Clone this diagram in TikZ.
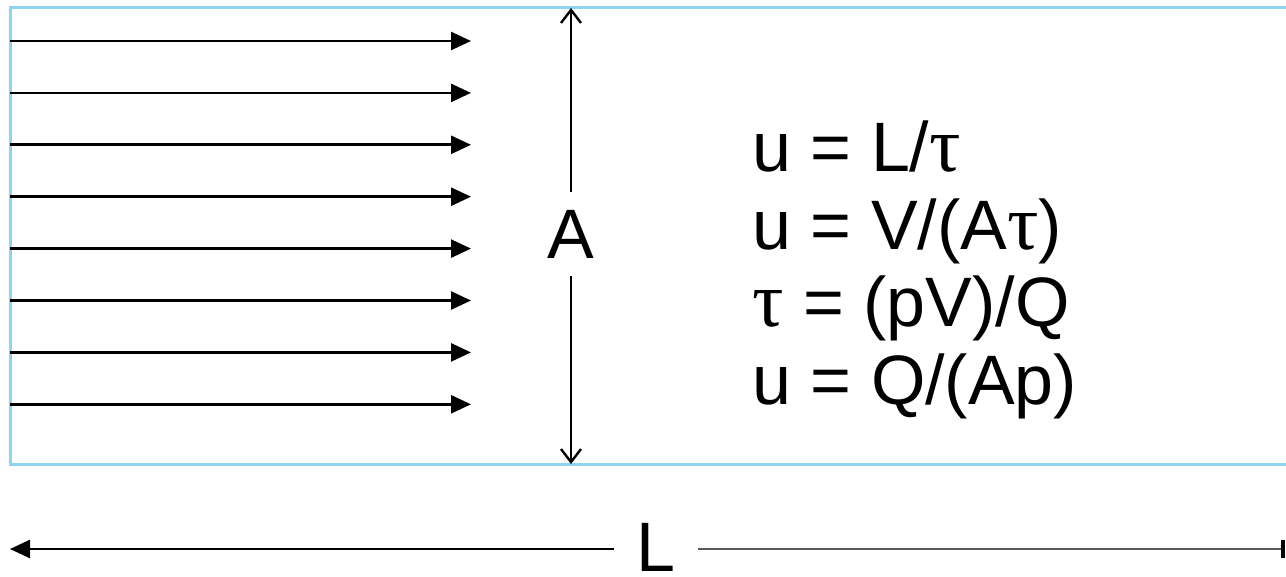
\documentclass[tikz,border=0pt]{standalone}
\usepackage{fontspec}
\setmainfont{Liberation Sans}
\newfontfamily\taufont{Liberation Serif}[Scale=1.12]
\usetikzlibrary{arrows.meta,positioning}
\definecolor{pipeblue}{RGB}{140,212,242}
\newcommand{\tauc}{{\taufont τ}}
\tikzset{
  wall/.style={draw=pipeblue,line width=1.5pt},
  flow/.style={-{Triangle[length=10pt,width=9pt]},line width=1.3pt},
  dim/.style={-{Straight Barb[length=6.5pt,width=10pt,line width=1.2pt]},line width=0.9pt},
  big/.style={font=\fontsize{35}{42}\selectfont,inner sep=0pt},
  eqn/.style={big,anchor=base west},
}

\begin{document}
\begin{tikzpicture}[x=0.5pt,y=-0.5pt]
  \useasboundingbox (0,0) rectangle (1286,577);

  % --- channel walls (open on the right) ---
  \draw[wall] (1286,8) -- (10,8) -- (10,464) -- (1286,464);

  % --- flow lines ---
  \foreach \i in {0,...,7} {
    \coordinate (s\i) at (10,41+51.9*\i);
    \coordinate (e\i) at (471,41+51.9*\i);
    \draw[flow] (s\i) -- (e\i);
  }

  % --- cross-section A ---
  \node[big,text height=25pt,text depth=0pt,inner ysep=8.5pt] (alab) at (571,234) {A};
  \coordinate (atop) at (571,8);
  \coordinate (abot) at (571,464);
  \draw[dim] (alab) -- (atop);
  \draw[dim] (alab) -- (abot);

  % --- length L ---
  \node[big,text height=25pt,text depth=0pt,inner xsep=11.25pt] (llab) at (656,546) {L};
  \coordinate (lleft) at (10,549);
  \coordinate (lright) at (1285,549);
  \draw[flow] (llab.west |- lleft) -- (lleft);
  \draw[-{Bar[width=9pt,line width=2pt,black]},line width=1.1pt,draw=black!65]
    (llab.east |- lright) -- (lright);

  % --- relations ---
  \node[eqn] (eq1) at (752,172) {u = L/\tauc};
  \node[eqn] (eq2) at (752,250) {u = V/(A\tauc)};
  \node[eqn] (eq3) at (752,327) {\tauc{} = (pV)/Q};
  \node[eqn] (eq4) at (752,405) {u = Q/(Ap)};
\end{tikzpicture}
\end{document}
